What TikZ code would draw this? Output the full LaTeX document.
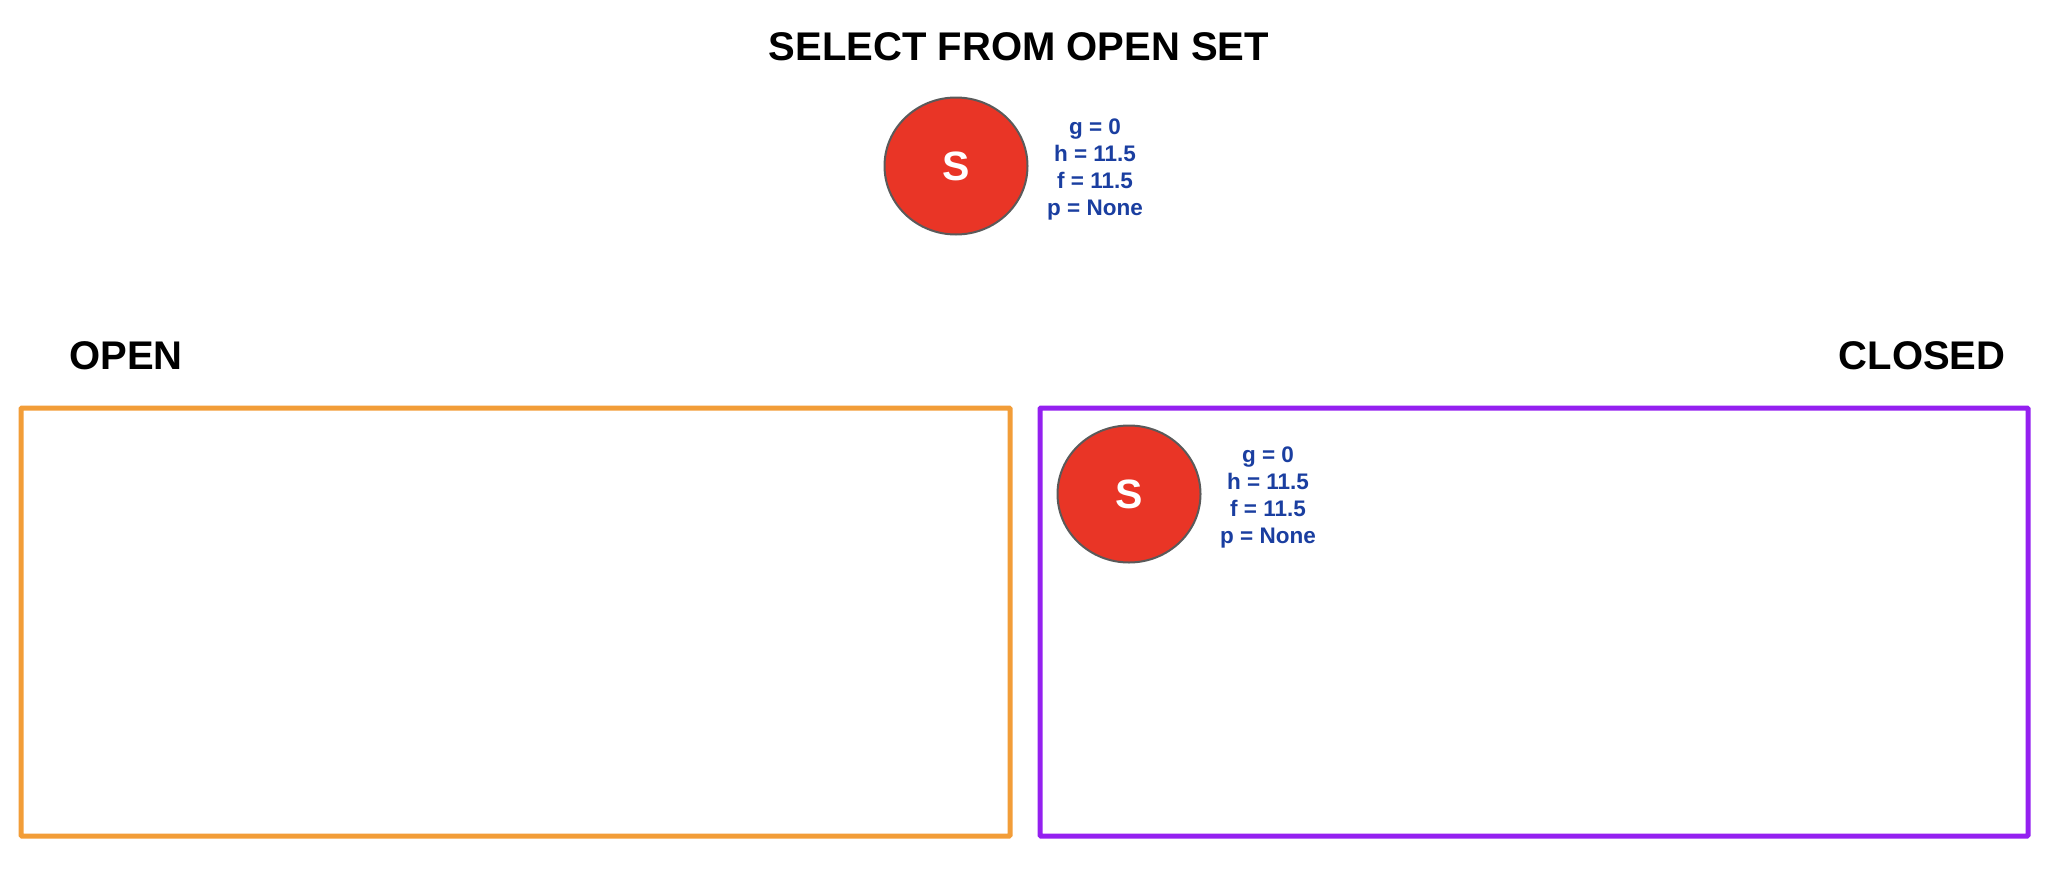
\documentclass[tikz,border=0pt]{standalone}
\usepackage{fontspec}
\setmainfont{Liberation Sans}
\usetikzlibrary{shapes.geometric}
\definecolor{nodeRed}{RGB}{233,53,38}
\definecolor{nodeEdge}{RGB}{90,90,90}
\definecolor{infoBlue}{RGB}{26,62,160}
\definecolor{openOrange}{RGB}{242,157,56}
\definecolor{closedPurple}{RGB}{148,32,240}

\begin{document}
\begin{tikzpicture}[x=1pt, y=-1pt,
  startStyle/.style={ellipse, draw=nodeEdge, line width=2pt, fill=nodeRed, inner sep=0pt,
    minimum width=143pt, minimum height=137pt, text=white,
    font=\bfseries\fontsize{41}{41}\selectfont},
  infoStyle/.style={align=center, text=infoBlue, font=\bfseries\fontsize{22.5}{27}\selectfont},
  headStyle/.style={font=\bfseries\fontsize{40}{40}\selectfont},
  setStyle/.style={line width=5pt, rounded corners=1pt}
]
\useasboundingbox (0, 0) rectangle (2056, 870);

\node [headStyle] (title) at (1019, 47) {SELECT FROM OPEN SET};

\node [startStyle] (startTop) at (956, 166) {S};
\node [infoStyle]  (infoTop)  at (1095, 169) {g = 0\\h = 11.5\\f = 11.5\\p = None};

\node [headStyle] (openLabel)   at (126, 356)  {OPEN};
\node [headStyle] (closedLabel) at (1922, 356) {CLOSED};

\draw [setStyle, draw=openOrange]   (21, 408)   rectangle (1010, 836);
\draw [setStyle, draw=closedPurple] (1040, 408) rectangle (2028, 836);

\node [startStyle] (startClosed) at (1129, 494) {S};
\node [infoStyle]  (infoClosed)  at (1268, 497) {g = 0\\h = 11.5\\f = 11.5\\p = None};
\end{tikzpicture}
\end{document}
